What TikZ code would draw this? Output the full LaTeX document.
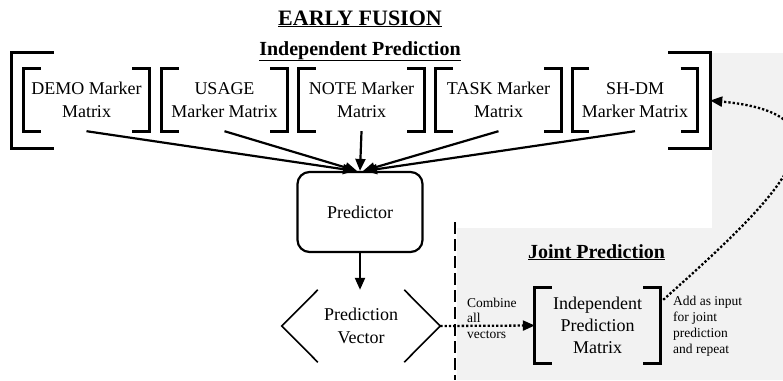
\documentclass[tikz,border=0pt]{standalone}
\usepackage{fontspec}
\setmainfont{Liberation Serif}
\usetikzlibrary{arrows.meta}

\tikzset{
  texto/.style={font=\fontsize{18}{23}\selectfont, align=center},
  matriz/.style={texto, minimum width=125pt, minimum height=62pt, inner sep=0pt},
  colchete/.style={line width=2.8pt},
  seta/.style={line width=2.2pt, ->},
  pontilhado/.style={line width=2.3pt, dash pattern=on 2.3pt off 2pt, ->},
  titulo/.style={font=\bfseries\fontsize{22}{26}\selectfont, anchor=base},
  subtitulo/.style={font=\bfseries\fontsize{20}{24}\selectfont, anchor=base},
  nota/.style={font=\fontsize{13.5}{15.5}\selectfont, align=left, anchor=west, inner sep=0pt},
}

% colchetes em volta de um no
\newcommand{\colchetes}[2][17pt]{%
  \draw[colchete] ([xshift=#1]#2.north west) -- (#2.north west) -- (#2.south west) -- ([xshift=#1]#2.south west);
  \draw[colchete] ([xshift=-#1]#2.north east) -- (#2.north east) -- (#2.south east) -- ([xshift=-#1]#2.south east);
}

\begin{document}
\begin{tikzpicture}[x=1pt, y=-1pt, >={Triangle[length=12pt, width=10pt]}]
  \useasboundingbox (0,0) rectangle (783,380);

  % Fundo cinza
  \fill[gray!10] (712,53) -- (783,53) -- (783,380) -- (457,380) -- (457,228) -- (712,228) -- cycle;
  \draw[line width=2.5pt, dash pattern=on 12pt off 5pt] (455,222) -- (455,380);

  % Titulos
  \node[titulo] (early) at (360,25) {\underline{EARLY FUSION}};
  \node[subtitulo] (indtit) at (360,55) {\underline{Independent Prediction}};
  \node[subtitulo] (jointtit) at (596.5,258) {\underline{Joint Prediction}};

  % Matrizes
  \node[matriz] (demo) at (86.5,100) {DEMO Marker\\Matrix};
  \node[matriz] (usage) at (224.5,100) {USAGE\\Marker Matrix};
  \node[matriz] (note) at (361.5,100) {NOTE Marker\\Matrix};
  \node[matriz] (task) at (498.5,100) {TASK Marker\\Matrix};
  \node[matriz] (shdm) at (635,100) {SH-DM\\Marker Matrix};
  \foreach \m in {demo,usage,note,task,shdm}
    \colchetes{\m}
  \node[minimum width=698pt, minimum height=95pt, inner sep=0pt] (indep) at (361,100.5) {};
  \colchetes[42pt]{indep}

  % Preditor e vetor
  \node[texto, draw, line width=2.2pt, rounded corners=12pt, minimum width=125pt, minimum height=80pt] (pred) at (360,212) {Predictor};
  \node[texto, minimum width=158pt, minimum height=72pt, inner sep=0pt] (pvec) at (361,326) {Prediction\\Vector};
  \draw[line width=1.6pt] ([xshift=36pt]pvec.north west) -- (pvec.west) -- ([xshift=36pt]pvec.south west);
  \draw[line width=1.6pt] ([xshift=-36pt]pvec.north east) -- (pvec.east) -- ([xshift=-36pt]pvec.south east);

  % Matriz conjunta
  \node[texto, font=\fontsize{18}{22}\selectfont, minimum width=125pt, minimum height=75pt, inner sep=0pt] (ipm) at (597.5,325.5) {Independent\\Prediction\\Matrix};
  \colchetes{ipm}
  \node[nota] (comb) at (467,318) {Combine\\all\\vectors};
  \node[nota, font=\fontsize{13.5}{16}\selectfont] (add) at (673,326) {Add as input\\for joint\\prediction\\and repeat};

  % Setas
  \draw[seta] (demo.south) -- ([xshift=-5pt]pred.north);
  \draw[seta] (usage.south) -- ([xshift=-3pt]pred.north);
  \draw[seta] (note.south) -- (pred.north);
  \draw[seta] (task.south) -- ([xshift=3pt]pred.north);
  \draw[seta] (shdm.south) -- ([xshift=5pt]pred.north);
  \draw[seta] (pred.south) -- (pvec.north -| pred.south);
  \draw[pontilhado] (pvec.east) -- (ipm.west);
  \draw[pontilhado] ([xshift=3pt, yshift=-12pt]ipm.north east) .. controls (775,200) and (865,115) .. (indep.east);
\end{tikzpicture}
\end{document}
